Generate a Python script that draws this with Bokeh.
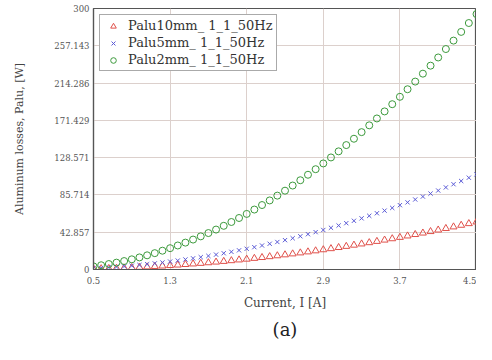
from bokeh.plotting import figure
from bokeh.models import FixedTicker, Title, Legend, LegendItem
from bokeh.embed import file_html
from bokeh.resources import INLINE

current = [0.50, 0.58, 0.66, 0.74, 0.82, 0.90, 0.98, 1.06, 1.14, 1.22,
           1.30, 1.38, 1.46, 1.54, 1.62, 1.70, 1.78, 1.86, 1.94, 2.02,
           2.10, 2.18, 2.26, 2.34, 2.42, 2.50, 2.58, 2.66, 2.74, 2.82,
           2.90, 2.98, 3.06, 3.14, 3.22, 3.30, 3.38, 3.46, 3.54, 3.62,
           3.70, 3.78, 3.86, 3.94, 4.02, 4.10, 4.18, 4.26, 4.34, 4.42, 4.50]

palu10mm = [0.68, 0.91, 1.18, 1.48, 1.82, 2.19, 2.59, 3.03, 3.51, 4.02,
            4.56, 5.14, 5.76, 6.40, 7.09, 7.80, 8.55, 9.34, 10.16, 11.02,
            11.91, 12.83, 13.79, 14.78, 15.81, 16.88, 17.97, 19.10, 20.27, 21.47,
            22.71, 23.98, 25.28, 26.62, 27.99, 29.40, 30.85, 32.32, 33.83, 35.38,
            36.96, 38.58, 40.23, 41.91, 43.63, 45.39, 47.18, 49.00, 50.86, 52.75, 54.68]

palu5mm = [1.35, 1.82, 2.35, 2.96, 3.63, 4.37, 5.19, 6.07, 7.02, 8.04,
           9.13, 10.28, 11.51, 12.81, 14.17, 15.61, 17.11, 18.68, 20.32, 22.03,
           23.81, 25.66, 27.58, 29.57, 31.62, 33.75, 35.94, 38.21, 40.54, 42.94,
           45.41, 47.95, 50.56, 53.24, 55.99, 58.81, 61.69, 64.65, 67.67, 70.76,
           73.93, 77.16, 80.46, 83.83, 87.27, 90.77, 94.35, 98.00, 101.71, 105.50, 109.35]

palu2mm = [3.6, 4.9, 6.3, 7.9, 9.7, 11.7, 13.9, 16.3, 18.8, 21.6,
           24.5, 27.6, 30.9, 34.4, 38.1, 41.9, 45.9, 50.2, 54.6, 59.2,
           63.9, 68.9, 74.1, 79.4, 84.9, 90.6, 96.5, 102.6, 108.9, 115.3,
           121.9, 128.8, 135.8, 143.0, 150.3, 157.9, 165.7, 173.6, 181.7, 190.0,
           198.5, 207.2, 216.0, 225.1, 234.3, 243.7, 253.4, 263.1, 273.1, 283.3, 293.6]

x_ticks = [0.5, 1.3, 2.1, 2.9, 3.7, 4.5]
y_ticks = [0, 42.857, 85.714, 128.571, 171.429, 214.286, 257.143, 300]
y_tick_labels = ["0", "42.857", "85.714", "128.571", "171.429", "214.286", "257.143", "300"]
series_names = ["Palu10mm_ 1_1_50Hz", "Palu5mm_ 1_1_50Hz", "Palu2mm_ 1_1_50Hz"]

FONT = "DejaVu Serif"

p = figure(width=476, height=344, output_backend="svg", toolbar_location=None,
           x_range=(0.5, 4.5), y_range=(0, 300),
           min_border_left=93, min_border_right=0, min_border_top=8,
           min_border_bottom=75)
p.background_fill_color = "white"
p.border_fill_color = "white"
p.outline_line_color = "#555555"
p.outline_line_width = 1.2

for ax in (p.xaxis, p.yaxis):
    ax.axis_line_color = "#555555"
    ax.axis_line_width = 1.2
    ax.major_tick_in = 0
    ax.major_tick_out = 0
    ax.minor_tick_in = 0
    ax.minor_tick_out = 0
    ax.major_label_text_font = FONT
    ax.major_label_text_font_size = "8.5px"
    ax.major_label_text_color = "#555555"
    ax.axis_label_text_font = FONT
    ax.axis_label_text_font_style = "normal"
    ax.axis_label_text_color = "#444444"

p.xaxis.axis_label_text_font_size = "12px"
p.yaxis.axis_label_text_font_size = "11px"
p.xaxis.ticker = FixedTicker(ticks=x_ticks)
p.yaxis.ticker = FixedTicker(ticks=y_ticks)
p.yaxis.major_label_overrides = {t: s for t, s in zip(y_ticks, y_tick_labels)}
p.xaxis.major_label_standoff = 7
p.yaxis.major_label_standoff = 4
p.xaxis.axis_label = "Current, I [A]"
p.yaxis.axis_label = "Aluminum losses, Palu, [W]"
p.xaxis.axis_label_standoff = 9
p.yaxis.axis_label_standoff = 25

p.xgrid.grid_line_color = "#dcd0cc"
p.ygrid.grid_line_color = "#dcd0cc"

r_red = p.scatter(current, palu10mm, marker="triangle", size=7, fill_color=None,
                  line_color="#e0504a", line_width=1)
r_blue = p.scatter(current, palu5mm, marker="x", size=6, line_color="#5a5ad6", line_width=1)
r_green = p.scatter(current, palu2mm, marker="circle", size=7, fill_color=None,
                    line_color="#3c9a3c", line_width=1)

legend = Legend(items=[LegendItem(label=series_names[0], renderers=[r_red]),
                       LegendItem(label=series_names[1], renderers=[r_blue]),
                       LegendItem(label=series_names[2], renderers=[r_green])],
                location="top_left", margin=6, padding=3, spacing=2,
                glyph_width=20, glyph_height=14, label_height=14, label_standoff=5,
                border_line_color="#555555", border_line_width=1.2,
                label_text_font=FONT, label_text_font_size="13px",
                label_text_color="#333333", background_fill_alpha=1)
p.add_layout(legend)

p.add_layout(Title(text="(a)", align="center", text_font=FONT,
                   text_font_size="18px", text_font_style="normal",
                   text_color="#222222", standoff=8), "below")

open("out.html", "w").write(file_html(p, INLINE))
